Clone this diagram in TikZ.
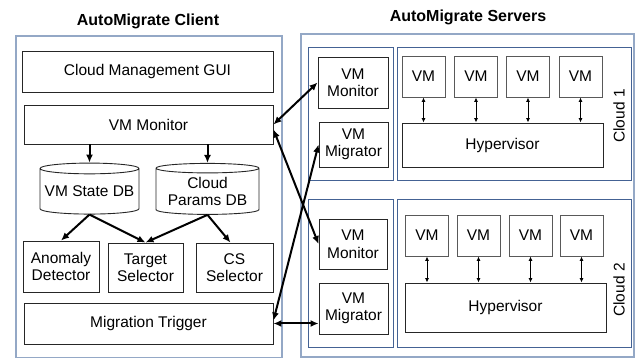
\documentclass[tikz,border=0pt]{standalone}
\usepackage{fontspec}
\setmainfont{Liberation Sans}
\usetikzlibrary{arrows.meta,shapes.geometric}
\definecolor{outerblue}{RGB}{148,168,198}
\definecolor{innerblue}{RGB}{68,98,148}

\begin{document}
\begin{tikzpicture}[x=1pt,y=-1pt,font=\fontsize{15.5}{17.5}\selectfont,
  box/.style={draw=black!85,line width=0.9pt,inner sep=0pt,align=center},
  vmbox/.style={draw=black!65,line width=0.9pt,inner sep=0pt,minimum width=43pt,minimum height=41pt},
  db/.style={draw=black!85,line width=0.9pt,cylinder,shape border rotate=90,aspect=0.12,inner sep=0pt,align=center},
  link/.style={{Latex[length=8pt,width=7pt]}-{Latex[length=8pt,width=7pt]},line width=2pt},
  flow/.style={-{Latex[length=8pt,width=7pt]},line width=2pt},
  vmlink/.style={{Latex[length=4.5pt,width=4pt]}-{Latex[length=4.5pt,width=4pt]},line width=1pt}]
\useasboundingbox (0,0) rectangle (635,358);

\node[font=\fontsize{16}{18}\selectfont\bfseries] (ctitle) at (148,21) {AutoMigrate Client};
\node[font=\fontsize{16}{18}\selectfont\bfseries] (stitle) at (468,17) {AutoMigrate Servers};

\draw[outerblue,line width=1.1pt] (16,36) rectangle (282,358);
\draw[outerblue,line width=1.1pt] (301,34) rectangle (634,357);
\draw[innerblue,line width=0.9pt] (308,47) rectangle (393,180);
\draw[innerblue,line width=0.9pt] (397,47) rectangle (631,180);
\draw[innerblue,line width=0.9pt] (308,199) rectangle (393,347);
\draw[innerblue,line width=0.9pt] (397,199) rectangle (631,347);

% client
\node[box,minimum width=251pt,minimum height=41pt] (gui) at (147.5,71.5) {Cloud Management GUI};
\node[box,minimum width=249pt,minimum height=39pt] (cmon) at (148.5,124.5) {VM Monitor};
\node[db,minimum width=99pt,minimum height=51pt] (vmdb) at (89.5,191.5) {VM State DB};
\node[db,minimum width=103pt,minimum height=51pt] (cpdb) at (207.5,191.5) {Cloud\\Params DB};
\node[box,minimum width=76pt,minimum height=51pt] (anom) at (61,266.5) {Anomaly\\Detector};
\node[box,minimum width=75pt,minimum height=49pt] (tsel) at (145.5,267.5) {Target\\Selector};
\node[box,minimum width=77pt,minimum height=49pt] (csel) at (234.5,267.5) {CS\\Selector};
\node[box,minimum width=249pt,minimum height=41pt] (trig) at (148.5,323.5) {Migration Trigger};

% cloud 1
\node[box,minimum width=70pt,minimum height=51pt] (mon1) at (353,82.5) {VM\\Monitor};
\node[box,minimum width=69pt,minimum height=45pt] (mig1) at (353.5,144.5) {VM\\Migrator};
\node[vmbox] (vm11) at (423.5,76.5) {VM};
\node[vmbox] (vm12) at (476,76.5) {VM};
\node[vmbox] (vm13) at (528,76.5) {VM};
\node[vmbox] (vm14) at (580.5,76.5) {VM};
\node[box,minimum width=201pt,minimum height=44pt] (hyp1) at (502.5,145) {Hypervisor};
\node[rotate=90] (cl1) at (619,116) {Cloud 1};

% cloud 2
\node[box,minimum width=68pt,minimum height=50pt] (mon2) at (353,244) {VM\\Monitor};
\node[box,minimum width=69pt,minimum height=51pt] (mig2) at (353.5,308.5) {VM\\Migrator};
\node[vmbox] (vm21) at (427,235.5) {VM};
\node[vmbox] (vm22) at (478.5,235.5) {VM};
\node[vmbox] (vm23) at (530.5,235.5) {VM};
\node[vmbox] (vm24) at (581.5,235.5) {VM};
\node[box,minimum width=201pt,minimum height=49pt] (hyp2) at (505.5,307.5) {Hypervisor};
\node[rotate=90] (cl2) at (619,290) {Cloud 2};

\draw[flow] (vmdb.north |- cmon.south) -- (vmdb.north);
\draw[flow] (cpdb.north |- cmon.south) -- (cpdb.north);
\draw[flow] (vmdb.south) -- (anom.north);
\draw[flow] (vmdb.south) -- (tsel.north);
\draw[flow] (cpdb.south) -- (tsel.north);
\draw[flow] (cpdb.south) -- ([xshift=-4pt]csel.north);

\draw[link] (cmon.east) -- (mon1.west);
\draw[link] ([yshift=-5pt]cmon.east) -- (mon2.west);
\draw[link] ([yshift=3pt]trig.east) -- (mig1.west);
\draw[link] (trig.east) -- (trig.east -| mig2.west);

\draw[vmlink] (vm11.south) -- (vm11.south |- hyp1.north);
\draw[vmlink] (vm12.south) -- (vm12.south |- hyp1.north);
\draw[vmlink] (vm13.south) -- (vm13.south |- hyp1.north);
\draw[vmlink] (vm14.south) -- (vm14.south |- hyp1.north);
\draw[vmlink] (vm21.south) -- (vm21.south |- hyp2.north);
\draw[vmlink] (vm22.south) -- (vm22.south |- hyp2.north);
\draw[vmlink] (vm23.south) -- (vm23.south |- hyp2.north);
\draw[vmlink] (vm24.south) -- (vm24.south |- hyp2.north);
\end{tikzpicture}
\end{document}
